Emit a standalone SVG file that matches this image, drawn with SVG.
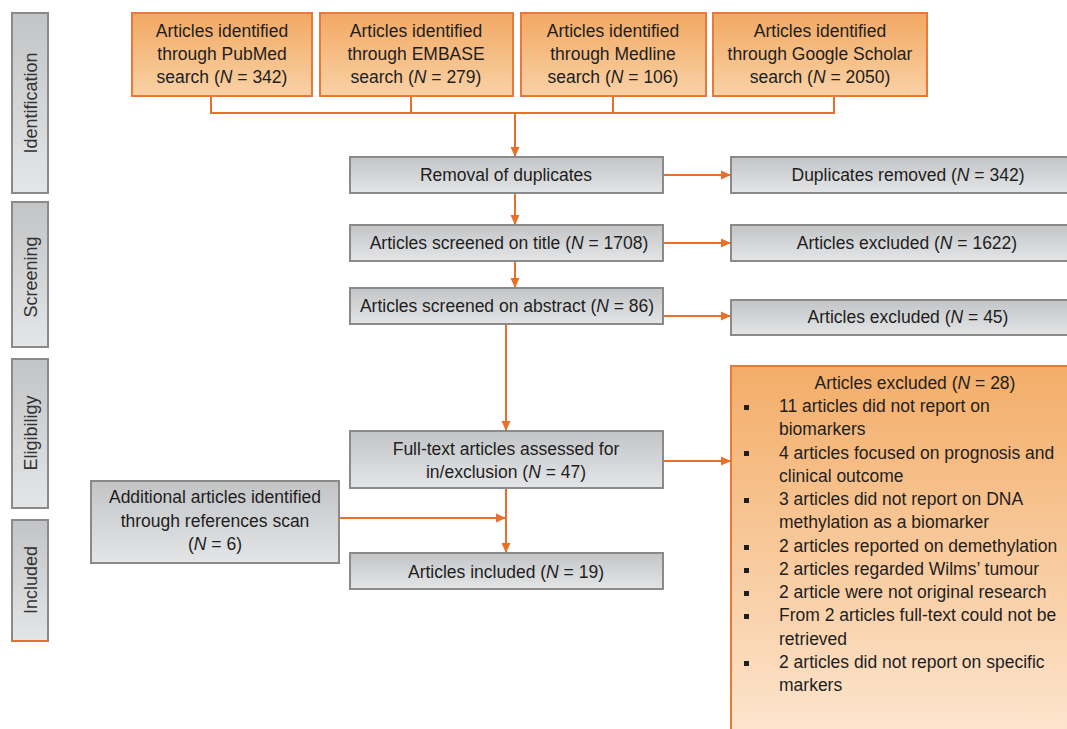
<svg xmlns="http://www.w3.org/2000/svg" width="1067" height="729" viewBox="0 0 1067 729">
<defs>
<linearGradient id="gOr" x1="0" y1="0" x2="0" y2="1"><stop offset="0" stop-color="#f2a862"/><stop offset="1" stop-color="#f9d2a6"/></linearGradient>
<linearGradient id="gGr" x1="0" y1="0" x2="0" y2="1"><stop offset="0" stop-color="#c3c4c6"/><stop offset="1" stop-color="#e4e5e7"/></linearGradient>
<linearGradient id="gBig" x1="0" y1="0" x2="0" y2="1"><stop offset="0" stop-color="#f3ad68"/><stop offset="1" stop-color="#fde6d0"/></linearGradient>
<marker id="ah" markerUnits="userSpaceOnUse" markerWidth="10" markerHeight="10" refX="10" refY="5" orient="auto"><path d="M0,0.5 L10,5 L0,9.5 z" fill="#e8702a"/></marker>
</defs>
<style>
.or{fill:url(#gOr);stroke:#e8793a;stroke-width:2}
.gr{fill:url(#gGr);stroke:#8a8a8a;stroke-width:2}
.big{fill:url(#gBig);stroke:#e8793a;stroke-width:2}
.t{font-family:"Liberation Sans",Arial,sans-serif;font-size:17.5px;fill:#1e1e1e;text-anchor:middle}
.tl{font-family:"Liberation Sans",Arial,sans-serif;font-size:17.5px;fill:#1e1e1e}
.side{font-family:"Liberation Sans",Arial,sans-serif;font-size:18px;fill:#333;text-anchor:middle}
.i{font-style:italic}
.c{fill:none;stroke:#e8702a;stroke-width:2}
.ca{fill:none;stroke:#e8702a;stroke-width:2;marker-end:url(#ah)}
.b{fill:#1e1e1e}
</style>
<g id="side-identification"><rect class="gr" x="12" y="13" width="36" height="180"/><text class="side" transform="translate(37,103) rotate(-90)">Identification</text></g>
<g id="side-screening"><rect class="gr" x="12" y="202" width="36" height="145"/><text class="side" transform="translate(37,277) rotate(-90)">Screening</text></g>
<g id="side-eligibility"><rect class="gr" x="12" y="359" width="36" height="149"/><text class="side" transform="translate(37,433) rotate(-90)">Eligibiligy</text></g>
<g id="side-included"><rect class="gr" x="12" y="520" width="36" height="121"/><line x1="12" y1="641" x2="48" y2="641" stroke="#e8702a" stroke-width="2"/><text class="side" transform="translate(37,580) rotate(-90)">Included</text></g>

<g id="connectors">
<path class="c" d="M211,96 V113 M411,96 V113 M613,96 V113 M834,96 V113 M210,113 H835"/>
<path class="ca" d="M515,113 V157"/>
<path class="ca" d="M663,175 H731"/>
<path class="ca" d="M515,193 V225"/>
<path class="ca" d="M663,243 H731"/>
<path class="ca" d="M515,261 V288"/>
<path class="ca" d="M663,316 H731"/>
<path class="ca" d="M506,324 V431"/>
<path class="ca" d="M663,461 H731"/>
<path class="ca" d="M339,518 H506"/>
<path class="ca" d="M506,488 V553"/>
</g>

<g id="pubmed"><rect class="or" x="132" y="13" width="180" height="83"/><text class="t" x="222" y="37">Articles identified</text><text class="t" x="222" y="60">through PubMed</text><text class="t" x="222" y="83">search (<tspan class="i">N</tspan> = 342)</text></g>
<g id="embase"><rect class="or" x="320" y="13" width="193" height="83"/><text class="t" x="416" y="37">Articles identified</text><text class="t" x="416" y="60">through EMBASE</text><text class="t" x="416" y="83">search (<tspan class="i">N</tspan> = 279)</text></g>
<g id="medline"><rect class="or" x="521" y="13" width="185" height="83"/><text class="t" x="613" y="37">Articles identified</text><text class="t" x="613" y="60">through Medline</text><text class="t" x="613" y="83">search (<tspan class="i">N</tspan> = 106)</text></g>
<g id="scholar"><rect class="or" x="713" y="13" width="214" height="83"/><text class="t" x="820" y="37">Articles identified</text><text class="t" x="820" y="60">through Google Scholar</text><text class="t" x="820" y="83">search (<tspan class="i">N</tspan> = 2050)</text></g>

<g id="removal"><rect class="gr" x="350" y="157" width="313" height="36"/><text class="t" x="506" y="181">Removal of duplicates</text></g>
<g id="dup-removed"><rect class="gr" x="731" y="157" width="345" height="36"/><text class="t" x="908" y="181">Duplicates removed (<tspan class="i">N</tspan> = 342)</text></g>
<g id="title"><rect class="gr" x="350" y="225" width="313" height="36"/><text class="t" x="509" y="249">Articles screened on title (<tspan class="i">N</tspan> = 1708)</text></g>
<g id="excl-1622"><rect class="gr" x="731" y="225" width="345" height="36"/><text class="t" x="907" y="249">Articles excluded (<tspan class="i">N</tspan> = 1622)</text></g>
<g id="abstract"><rect class="gr" x="350" y="288" width="313" height="36"/><text class="t" x="507" y="312">Articles screened on abstract (<tspan class="i">N</tspan> = 86)</text></g>
<g id="excl-45"><rect class="gr" x="731" y="300" width="345" height="35"/><text class="t" x="908" y="323">Articles excluded (<tspan class="i">N</tspan> = 45)</text></g>
<g id="fulltext"><rect class="gr" x="350" y="431" width="313" height="57"/><text class="t" x="506" y="455">Full-text articles assessed for</text><text class="t" x="506" y="478">in/exclusion (<tspan class="i">N</tspan> = 47)</text></g>
<g id="additional"><rect class="gr" x="91" y="481" width="248" height="82"/><text class="t" x="215" y="503">Additional articles identified</text><text class="t" x="215" y="527">through references scan</text><text class="t" x="215" y="550">(<tspan class="i">N</tspan> = 6)</text></g>
<g id="included"><rect class="gr" x="350" y="553" width="313" height="36"/><text class="t" x="506" y="578">Articles included (<tspan class="i">N</tspan> = 19)</text></g>

<g id="excl-28">
<rect class="big" x="731" y="366" width="345" height="375"/>
<text class="t" x="915" y="389">Articles excluded (<tspan class="i">N</tspan> = 28)</text>
<g class="b"><rect x="744" y="405" width="5" height="5"/><rect x="744" y="451" width="5" height="5"/><rect x="744" y="498" width="5" height="5"/><rect x="744" y="545" width="5" height="5"/><rect x="744" y="568" width="5" height="5"/><rect x="744" y="591" width="5" height="5"/><rect x="744" y="614" width="5" height="5"/><rect x="744" y="661" width="5" height="5"/></g>
<text class="tl" x="779" y="412">11 articles did not report on</text>
<text class="tl" x="779" y="435">biomarkers</text>
<text class="tl" x="779" y="459">4 articles focused on prognosis and</text>
<text class="tl" x="779" y="482">clinical outcome</text>
<text class="tl" x="779" y="505">3 articles did not report on DNA</text>
<text class="tl" x="779" y="528">methylation as a biomarker</text>
<text class="tl" x="779" y="552">2 articles reported on demethylation</text>
<text class="tl" x="779" y="575">2 articles regarded Wilms’ tumour</text>
<text class="tl" x="779" y="598">2 article were not original research</text>
<text class="tl" x="779" y="621">From 2 articles full-text could not be</text>
<text class="tl" x="779" y="645">retrieved</text>
<text class="tl" x="779" y="668">2 articles did not report on specific</text>
<text class="tl" x="779" y="691">markers</text>
</g>
</svg>
